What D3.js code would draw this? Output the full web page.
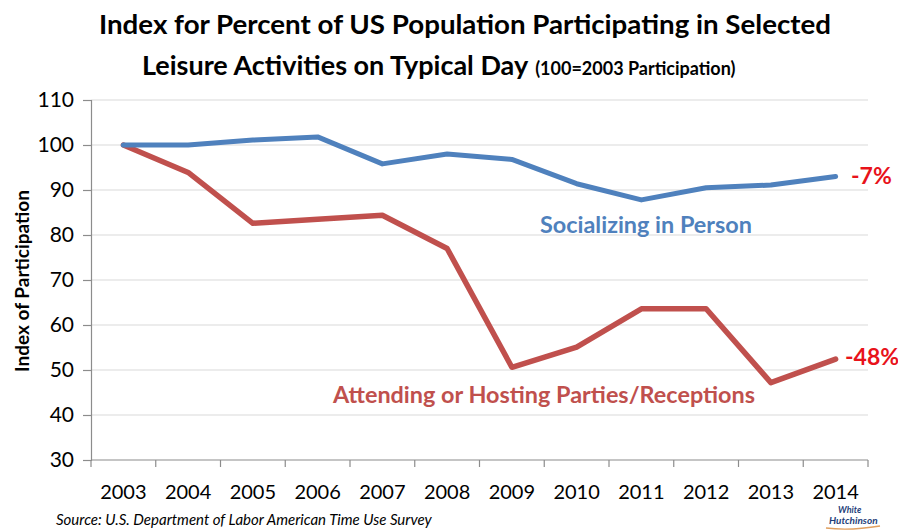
<!DOCTYPE html>
<html><head><meta charset="utf-8">
<script src="https://cdn.jsdelivr.net/npm/d3@7"></script>
<style>body{margin:0;background:#fff}svg{display:block}text{font-family:Lato,"Open Sans",sans-serif}</style>
</head><body>
<svg id="c" width="898" height="531"></svg>
<script>
const years = ["2003","2004","2005","2006","2007","2008","2009","2010","2011","2012","2013","2014"];
const socializing = [100,100,101.1,101.8,95.8,98,96.8,91.4,87.8,90.5,91.1,93];
const parties = [100,93.9,82.6,83.5,84.4,77,50.6,55.1,63.6,63.6,47.2,52.4];
const yTicks = [30,40,50,60,70,80,90,100,110];

const svg = d3.select("#c");
const L = 91, R = 868, T = 100, B = 460;
const x = d3.scaleBand().domain(years).range([L, R]).padding(0);
const y = d3.scaleLinear().domain([30,110]).range([B, T]);
const cx = d => x(d) + x.bandwidth()/2;

// gridlines
svg.append("g").selectAll("line").data(yTicks.slice(1)).join("line")
  .attr("x1", L).attr("x2", R).attr("y1", d=>y(d)).attr("y2", d=>y(d))
  .attr("stroke", "#d9d9d9").attr("stroke-width", 1.2);

// y axis
const ya = svg.append("g").attr("transform", `translate(${L},0)`)
  .call(d3.axisLeft(y).tickValues(yTicks).tickSize(8).tickPadding(9));
ya.select(".domain").attr("stroke", "#8c8c8c").attr("stroke-width", 1.2);
ya.selectAll(".tick line").attr("stroke", "#8c8c8c").attr("stroke-width", 1.2);
ya.selectAll(".tick text").attr("font-size", 21).attr("fill", "#000").attr("font-family", "Lato");

// x axis
svg.append("line").attr("x1", L).attr("x2", R).attr("y1", B).attr("y2", B)
  .attr("stroke", "#8c8c8c").attr("stroke-width", 1.2);
const bounds = years.map(d => x(d)).concat([R]);
svg.append("g").selectAll("line").data(bounds).join("line")
  .attr("x1", d=>d).attr("x2", d=>d).attr("y1", B).attr("y2", B+7)
  .attr("stroke", "#8c8c8c").attr("stroke-width", 1.2);
svg.append("g").selectAll("text").data(years).join("text")
  .attr("x", d=>cx(d)).attr("y", 499).attr("text-anchor","middle")
  .attr("font-size", 20).attr("fill","#000").text(d=>d);

// lines
const line = d3.line().x((d,i)=>cx(years[i])).y(d=>y(d));
svg.append("path").datum(parties).attr("d", line).attr("fill","none")
  .attr("stroke","#c0504d").attr("stroke-width",5.5).attr("stroke-linejoin","round").attr("stroke-linecap","round");
svg.append("path").datum(socializing).attr("d", line).attr("fill","none")
  .attr("stroke","#4f81bd").attr("stroke-width",5).attr("stroke-linejoin","round").attr("stroke-linecap","round");

// titles
svg.append("text").attr("x", 465).attr("y", 34).attr("text-anchor","middle")
  .attr("font-size", 27).attr("font-weight","bold").attr("fill","#000")
  .attr("textLength", 732).attr("lengthAdjust","spacingAndGlyphs")
  .text("Index for Percent of US Population Participating in Selected");
const t2 = svg.append("text").attr("x", 142).attr("y", 75).attr("font-weight","bold").attr("fill","#000");
t2.append("tspan").attr("font-size", 27).text("Leisure Activities on Typical Day");
t2.append("tspan").attr("font-size", 18).attr("dx", 7).text("(100=2003 Participation)");

// y title
svg.append("text").attr("transform","translate(29,281) rotate(-90)").attr("text-anchor","middle")
  .attr("font-size", 19).attr("font-weight","bold").attr("fill","#000").text("Index of Participation");

// annotations
svg.append("text").attr("x", 540).attr("y", 233).attr("font-size", 22).attr("font-weight","bold")
  .attr("textLength", 212).attr("lengthAdjust","spacingAndGlyphs")
  .attr("fill","#4f81bd").text("Socializing in Person");
svg.append("text").attr("x", 333).attr("y", 403).attr("font-size", 22).attr("font-weight","bold")
  .attr("textLength", 422).attr("lengthAdjust","spacingAndGlyphs")
  .attr("fill","#c0504d").text("Attending or Hosting Parties/Receptions");
svg.append("text").attr("x", 851).attr("y", 184).attr("font-size", 23).attr("font-weight","bold")
  .attr("fill","#e8121a").text("-7%");
svg.append("text").attr("x", 845).attr("y", 365).attr("font-size", 23).attr("font-weight","bold")
  .attr("fill","#e8121a").text("-48%");

// source
svg.append("text").attr("x", 56).attr("y", 525).attr("font-size", 15).attr("font-style","italic")
  .attr("fill","#000").text("Source: U.S. Department of Labor American Time Use Survey");

// logo text
svg.append("text").attr("x", 838).attr("y", 513).attr("font-size", 9).attr("font-style","italic").attr("font-weight","bold")
  .attr("fill","#1f3f7a").text("White");
svg.append("text").attr("x", 829).attr("y", 524).attr("font-size", 10).attr("font-style","italic").attr("font-weight","bold")
  .attr("fill","#1f3f7a").text("Hutchinson");
svg.append("path").attr("d","M826,528 Q850,531 880,526").attr("fill","none").attr("stroke","#e0a060").attr("stroke-width",1.5);
</script>
</body></html>
